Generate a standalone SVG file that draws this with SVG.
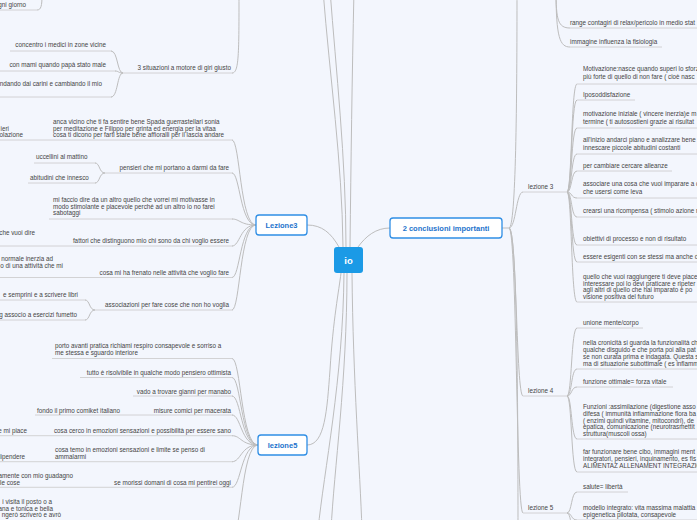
<svg xmlns="http://www.w3.org/2000/svg" width="697" height="520" viewBox="0 0 697 520">
<style>
.t{font-family:"Liberation Sans",Arial,sans-serif;font-size:6.3px;fill:#444}
.r{font-family:"Liberation Sans",Arial,sans-serif;font-size:6.3px;fill:#444}
.e{text-anchor:end}
.u{stroke:#c9c9c9;stroke-width:0.8;fill:none}
.c{stroke:#bdbdbd;stroke-width:1;fill:none}
.n{fill:#fff;stroke:#2f8ee5;stroke-width:1.3}
.nt{font-family:"Liberation Sans",Arial,sans-serif;font-size:7.5px;font-weight:bold;fill:#1d73cc;text-anchor:middle}
</style>
<rect width="697" height="520" fill="#f3f6fd"/>
<g id="connectors">
<path class="c" d="M307,225 C322,225 331,233 339,247"/>
<path class="c" d="M358,247 C366,236 376,228 390,228"/>
<path class="c" d="M307,445 C325,445 327,410 330,370 C333,320 339,290 341,273"/>
<path class="c" d="M343,247 C342,160 330,80 323,-10"/>
<path class="c" d="M346,247 C346,160 336,70 330,-10"/>
<path class="c" d="M350,247 C351,160 352,80 354,-10"/>
<path class="c" d="M344,273 C343,380 324,470 318,530"/>
<path class="c" d="M347,273 C347,380 334,470 331,530"/>
<path class="c" d="M352,273 C353,380 360,470 362,530"/>
<path class="c" d="M256,225 C240,225 240,140 232,140"/>
<path class="c" d="M256,225 C240,225 240,173 232,173"/>
<path class="c" d="M256,225 C240,225 240,219 232,219"/>
<path class="c" d="M256,225 C240,225 240,246 232,246"/>
<path class="c" d="M256,225 C240,225 240,277.5 232,277.5"/>
<path class="c" d="M256,225 C240,225 240,310 232,310"/>
<path class="c" d="M258,445 C241,445 241,358.5 232,358.5"/>
<path class="c" d="M258,445 C241,445 241,377.5 232,377.5"/>
<path class="c" d="M258,445 C241,445 241,396 232,396"/>
<path class="c" d="M258,445 C241,445 241,415 232,415"/>
<path class="c" d="M258,445 C241,445 241,435.7 232,435.7"/>
<path class="c" d="M258,445 C241,445 241,461.7 232,461.7"/>
<path class="c" d="M258,445 C241,445 241,487.3 232,487.3"/>
<path class="c" d="M258,445 C241,445 241,540 232,540"/>
<path class="c" d="M232,73 C239,73 239,55 239,-10"/>
<path class="c" d="M37,10 C41,10 42,6 42,-5"/>
<path class="c" d="M123,73 C117,73 118,51 111,51"/>
<path class="c" d="M123,73 C118,73 119,71 115,71"/>
<path class="c" d="M123,73 C117,73 118,97 111,97"/>
<path class="c" d="M105,173 C99,173 100,163 95,163"/>
<path class="c" d="M105,173 C99,173 100,183 95,183"/>
<path class="c" d="M95,310 C89,310 90,300 85,300"/>
<path class="c" d="M95,310 C89,310 90,320 85,320"/>
<path class="c" d="M502,228 H509"/>
<path class="c" d="M509,228 C516,228 516,192 523,192"/>
<path class="c" d="M509,228 C517,228 516,396 523,396"/>
<path class="c" d="M509,228 C517,228 516,513 523,513"/>
<path class="c" d="M509,228 C516,228 517,100 517,-10"/>
<path class="c" d="M509,228 C517,228 518,400 518,530"/>
<path class="c" d="M556,-10 C556,20 558,28 570,28"/>
<path class="c" d="M556,-10 C556,38 560,47 570,47"/>
<path class="c" d="M567,192 C572,192 571,84 577,84"/>
<path class="c" d="M567,192 C572,192 571,100 577,100"/>
<path class="c" d="M567,192 C572,192 571,128 577,128"/>
<path class="c" d="M567,192 C572,192 571,154 577,154"/>
<path class="c" d="M567,192 C572,192 571,171 577,171"/>
<path class="c" d="M567,192 C572,192 571,198 577,198"/>
<path class="c" d="M567,192 C572,192 571,217 577,217"/>
<path class="c" d="M567,192 C572,192 571,245 577,245"/>
<path class="c" d="M567,192 C572,192 571,262 577,262"/>
<path class="c" d="M567,192 C572,192 571,302 577,302"/>
<path class="c" d="M567,396 C572,396 571,328 577,328"/>
<path class="c" d="M567,396 C572,396 571,369 577,369"/>
<path class="c" d="M567,396 C572,396 571,387 577,387"/>
<path class="c" d="M567,396 C572,396 571,439 577,439"/>
<path class="c" d="M567,396 C572,396 571,472 577,472"/>
<path class="c" d="M567,513 C572,513 571,492 577,492"/>
<path class="c" d="M567,513 C572,513 571,520 577,520"/>
<path class="c" d="M567,513 C572,513 571,540 577,540"/>
</g>

<g id="io"><rect x="334" y="247" width="29" height="26" rx="3" fill="#1b9ae6"/><text x="348.5" y="264" font-family="Liberation Sans,Arial,sans-serif" font-size="9.5" font-weight="bold" fill="#fff" text-anchor="middle">io</text></g>
<g id="lezione3"><rect class="n" x="256" y="215" width="51" height="20" rx="3"/><text class="nt" x="281.5" y="227.8">Lezione3</text></g>
<g id="conclusioni"><rect class="n" x="390" y="218" width="112" height="20" rx="3"/><text class="nt" x="446" y="230.8">2 conclusioni importanti</text></g>
<g id="lezione5"><rect class="n" x="258" y="435" width="49" height="20" rx="3"/><text class="nt" x="282.5" y="447.8">lezione5</text></g>

<g id="giorno"><text class="t e" x="26" y="7">gni giorno</text><line class="u" x1="0" y1="10" x2="37" y2="10"/></g>
<g id="situazioni"><text class="t e" x="231" y="70">3 situazioni a motore di giri giusto</text><line class="u" x1="123" y1="73" x2="233" y2="73"/></g>
<g id="medici"><text class="t e" x="106" y="47">concentro i medici in zone vicine</text><line class="u" x1="10" y1="51" x2="112" y2="51"/></g>
<g id="mami"><text class="t e" x="106" y="67">con mami quando papà stato male</text><line class="u" x1="0" y1="71" x2="116" y2="71"/></g>
<g id="carini"><text class="t e" x="102" y="86">ndando dai carini e cambiando il mio</text><line class="u" x1="0" y1="97" x2="112" y2="97"/></g>

<g id="l3a"><text class="t" x="53" y="124">anca vicino che ti fa sentire bene Spada guerrastellari sonia</text><text class="t" x="53" y="130.5">per meditazione e Filippo per grinta ed energia per la vitaa</text><text class="t" x="53" y="137">cosa ti dicono per farti stare bene affioralli per il lascia andare</text><line class="u" x1="0" y1="140" x2="233" y2="140"/></g>
<g id="l3a1"><text class="t e" x="9" y="130.5">ieri</text><text class="t e" x="23" y="137">olazione</text></g>
<g id="l3b"><text class="t e" x="229" y="170">pensieri che mi portano a darmi da fare</text><line class="u" x1="105" y1="173" x2="233" y2="173"/></g>
<g id="l3b1"><text class="t" x="36" y="159">uccellini al mattino</text><line class="u" x1="34" y1="163" x2="96" y2="163"/></g>
<g id="l3b2"><text class="t" x="30" y="180">abitudini che innesco</text><line class="u" x1="28" y1="183" x2="96" y2="183"/></g>
<g id="l3c"><text class="t" x="53" y="202">mi faccio dire da un altro quello che vorrei mi motivasse in</text><text class="t" x="53" y="208.7">modo stimolante e piacevole perché ad un altro io no farei</text><text class="t" x="53" y="215.3">sabotaggi</text><line class="u" x1="49" y1="219" x2="233" y2="219"/></g>
<g id="l3d"><text class="t e" x="229" y="243">fattori che distinguono mio chi sono da chi voglio essere</text><line class="u" x1="0" y1="246" x2="233" y2="246"/></g>
<g id="l3d1"><text class="t e" x="35" y="235">che vuoi dire</text></g>
<g id="l3e"><text class="t e" x="229" y="275">cosa mi ha frenato nelle attività che voglio fare</text><line class="u" x1="0" y1="277.5" x2="233" y2="277.5"/></g>
<g id="l3e1"><text class="t e" x="53" y="261">normale inerzia ad</text><text class="t e" x="63" y="267.5">o di una attività che mi</text></g>
<g id="l3f"><text class="t e" x="229" y="307">associazioni per fare cose che non ho voglia</text><line class="u" x1="95" y1="310" x2="233" y2="310"/></g>
<g id="l3f1"><text class="t e" x="78" y="297">e semprini e a scrivere libri</text><line class="u" x1="0" y1="300" x2="86" y2="300"/></g>
<g id="l3f2"><text class="t e" x="77" y="317">g associo a esercizi fumetto</text><line class="u" x1="0" y1="320" x2="86" y2="320"/></g>

<g id="l5a"><text class="t" x="55" y="348">porto avanti pratica richiami respiro consapevole e sorriso a</text><text class="t" x="55" y="355">me stessa e sguardo interiore</text><line class="u" x1="52" y1="358.5" x2="233" y2="358.5"/></g>
<g id="l5b"><text class="t e" x="231" y="375">tutto è risolvibile in qualche modo pensiero ottimista</text><line class="u" x1="80" y1="377.5" x2="233" y2="377.5"/></g>
<g id="l5c"><text class="t e" x="231" y="394">vado a trovare gianni per manabo</text><line class="u" x1="133" y1="396" x2="233" y2="396"/></g>
<g id="l5d"><text class="t e" x="231" y="413">misure comici per macerata</text><line class="u" x1="35" y1="415" x2="233" y2="415"/></g>
<g id="l5d1"><text class="t" x="37" y="413">fondo il primo  comiket italiano</text></g>
<g id="l5e"><text class="t e" x="231" y="433">cosa cerco in emozioni sensazioni e possibilità per essere sano</text><line class="u" x1="0" y1="435.7" x2="233" y2="435.7"/></g>
<g id="l5e1"><text class="t e" x="27" y="433">e mi piace</text></g>
<g id="l5f"><text class="t" x="55" y="452">cosa temo in emozioni sensazioni e limite se penso di</text><text class="t" x="55" y="459">ammalarmi</text><line class="u" x1="0" y1="461.7" x2="233" y2="461.7"/></g>
<g id="l5f1"><text class="t e" x="25" y="458.5">dipendere</text></g>
<g id="l5g"><text class="t e" x="231" y="485">se morissi domani di cosa mi pentirei oggi</text><line class="u" x1="0" y1="487.3" x2="233" y2="487.3"/></g>
<g id="l5g1"><text class="t e" x="73" y="478">amente con mio guadagno</text><text class="t e" x="20" y="485">lle cose</text></g>
<g id="l5h1"><text class="t e" x="52" y="504">i visita il posto o a</text><text class="t e" x="53" y="510.5">ana e tonica e bella</text><text class="t e" x="61" y="516.5">ngerò  scriverò e avrò</text></g>

<g id="r2a"><text class="r" x="570" y="25">range contagiri di relax/pericolo in medio stat</text><line class="u" x1="570" y1="28" x2="697" y2="28"/></g>
<g id="r2b"><text class="r" x="570" y="44">immagine influenza la fisiologia</text><line class="u" x1="570" y1="47" x2="662" y2="47"/></g>
<g id="lz3"><text class="t" x="528" y="189">lezione 3</text><line class="u" x1="523" y1="192" x2="567" y2="192"/></g>
<g id="lz4"><text class="t" x="528" y="393">lezione 4</text><line class="u" x1="523" y1="396" x2="567" y2="396"/></g>
<g id="lz5"><text class="t" x="528" y="510">lezione 5</text><line class="u" x1="523" y1="513" x2="567" y2="513"/></g>

<g id="r3a"><text class="r" x="583" y="71">Motivazione:nasce quando superi lo sforz</text><text class="r" x="583" y="78.5">più forte di quello di non fare ( cioè nasc</text><line class="u" x1="577" y1="84" x2="697" y2="84"/></g>
<g id="r3b"><text class="r" x="583" y="97">Iposoddisfazione</text><line class="u" x1="577" y1="100" x2="635" y2="100"/></g>
<g id="r3c"><text class="r" x="583" y="116">motivazione iniziale ( vincere inerzia)e m</text><text class="r" x="583" y="124">termine ( ti autosostieni grazie ai risultat</text><line class="u" x1="577" y1="128" x2="697" y2="128"/></g>
<g id="r3d"><text class="r" x="583" y="142">all'inizio andarci piano e analizzare bene</text><text class="r" x="583" y="149.5">innescare piccole abitudini costanti</text><line class="u" x1="577" y1="154" x2="697" y2="154"/></g>
<g id="r3e"><text class="r" x="583" y="168">per cambiare cercare alleanze</text><line class="u" x1="577" y1="171" x2="672" y2="171"/></g>
<g id="r3f"><text class="r" x="583" y="186">associare una cosa che vuoi imparare a c</text><text class="r" x="583" y="194">che usersi come leva</text><line class="u" x1="577" y1="198" x2="697" y2="198"/></g>
<g id="r3g"><text class="r" x="583" y="213">crearsi una ricompensa ( stimolo azione r</text><line class="u" x1="577" y1="217" x2="697" y2="217"/></g>
<g id="r3h"><text class="r" x="583" y="240.5">obiettivi di processo e non di risultato</text><line class="u" x1="577" y1="245" x2="697" y2="245"/></g>
<g id="r3i"><text class="r" x="583" y="259">essere esigenti con se stessi ma anche d</text><line class="u" x1="577" y1="262" x2="697" y2="262"/></g>
<g id="r3j"><text class="r" x="583" y="279">quello che vuoi raggiungere ti deve piace</text><text class="r" x="583" y="285.5">interessare poi lo devi praticare e ripeter</text><text class="r" x="583" y="292">agli altri di quello che hai imparato   e po</text><text class="r" x="583" y="298.5">visione positiva del futuro</text><line class="u" x1="577" y1="302" x2="697" y2="302"/></g>

<g id="r4a"><text class="r" x="583" y="325">unione mente/corpo</text><line class="u" x1="577" y1="328" x2="643" y2="328"/></g>
<g id="r4b"><text class="r" x="583" y="345">nella cronicità si guarda la funzionalità ch</text><text class="r" x="583" y="352">qualche disguido e che porta poi alla pat</text><text class="r" x="583" y="359">se non curata prima e indagata. Questa s</text><text class="r" x="583" y="366">ma di situazione subottimale ( es inflamm</text><line class="u" x1="577" y1="369" x2="697" y2="369"/></g>
<g id="r4c"><text class="r" x="583" y="384">funzione ottimale= forza vitale</text><line class="u" x1="577" y1="387" x2="673" y2="387"/></g>
<g id="r4d"><text class="r" x="583" y="408.5">Funzioni :assimilazione (digestione  asso</text><text class="r" x="583" y="415.5">difesa ( immunità infiammazione flora ba</text><text class="r" x="583" y="422.5">( enzimi  quindi vitamine, mitocondri), de</text><text class="r" x="583" y="429">epatica, comunicazione (neurotrasmettit</text><text class="r" x="583" y="435.5">struttura(muscoli ossa)</text><line class="u" x1="577" y1="439" x2="697" y2="439"/></g>
<g id="r4e"><text class="r" x="583" y="454">far funzionare bene cibo, immagini ment</text><text class="r" x="583" y="461">integratori, pensieri, inquinamento, es fis</text><text class="r" x="583" y="468">ALIMENTAZ ALLENAMENT INTEGRAZIO N</text><line class="u" x1="577" y1="472" x2="697" y2="472"/></g>
<g id="r5a"><text class="r" x="583" y="489">salute= libertà</text><line class="u" x1="577" y1="492" x2="628" y2="492"/></g>
<g id="r5b"><text class="r" x="583" y="509.5">modello integrato: vita massima malattia</text><text class="r" x="583" y="516.5">epigenetica pilotata, consapevole</text><line class="u" x1="577" y1="520" x2="697" y2="520"/></g>
</svg>
